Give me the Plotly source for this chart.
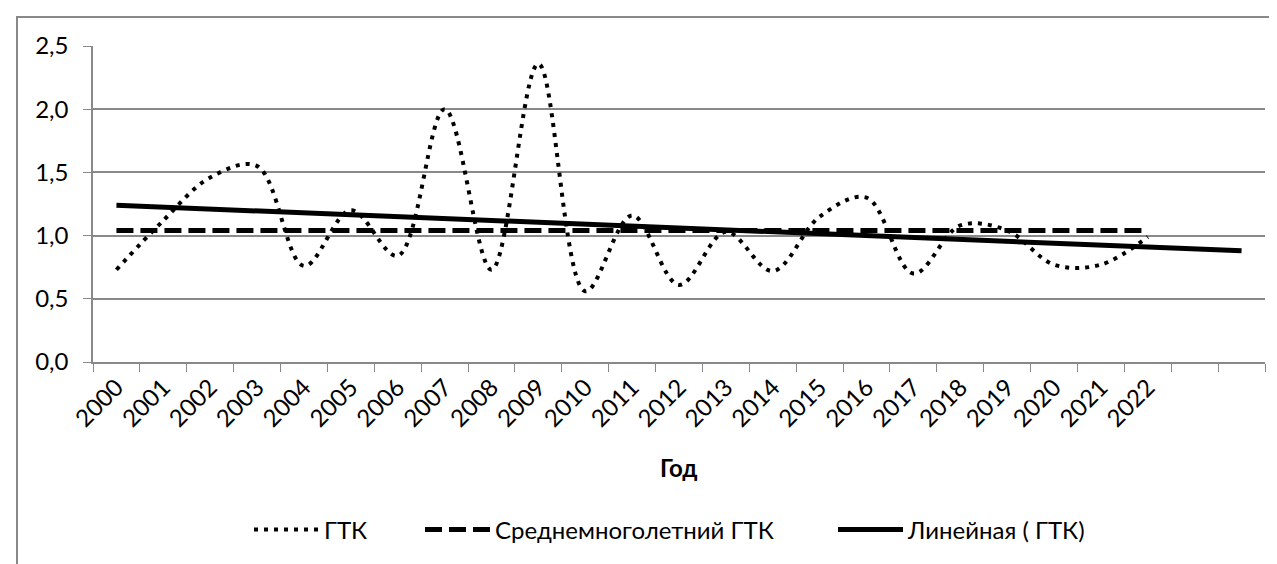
import plotly.graph_objects as go

# Data
years = [str(y) for y in range(2000, 2023)]
extra_cats = [" ", "  "]  # two empty forecast slots at the end of the axis
gtk = [0.73, 1.12, 1.46, 1.55, 0.76, 1.20, 0.84, 2.00, 0.73, 2.36, 0.56, 1.16,
       0.61, 1.03, 0.72, 1.15, 1.30, 0.70, 1.08, 1.04, 0.77, 0.77, 0.99]
gtk_mean = 1.04
trend_x = [years[0], extra_cats[-1]]
trend_y = [1.24, 0.88]

all_cats = years + extra_cats
font = "Lato"
grey = "#898989"

fig = go.Figure()

fig.add_trace(go.Scatter(
    x=years, y=gtk, mode="lines", name="ГТК", legend="legend",
    line=dict(color="black", width=4, dash="4px,6px", shape="spline", smoothing=1),
))
fig.add_trace(go.Scatter(
    x=years, y=[gtk_mean] * len(years), mode="lines", name="Среднемноголетний ГТК",
    legend="legend2",
    line=dict(color="black", width=5, dash="17px,7px"),
))
fig.add_trace(go.Scatter(
    x=trend_x, y=trend_y, mode="lines", name="Линейная ( ГТК)", legend="legend3",
    line=dict(color="black", width=5),
))

W, H = 1277, 564
L, R, T, B = 85, 20, 38, 210
pw, ph = W - L - R, H - T - B

def px_x(x):
    return (x - L) / pw

def px_y(y):
    return (H - B - y) / ph

leg = dict(orientation="h", xref="container", yref="container", xanchor="left",
           yanchor="middle", y=1 - 522 / H, itemwidth=65, bgcolor="rgba(0,0,0,0)",
           font=dict(family=font, size=24, color="black"))

fig.update_layout(
    width=W, height=H,
    margin=dict(l=L, r=R, t=T, b=B),
    paper_bgcolor="white", plot_bgcolor="white",
    separators=", ",
    showlegend=True,
    font=dict(family=font, size=24, color="black"),
    legend=dict(leg, x=241 / W),
    legend2=dict(leg, x=412 / W),
    legend3=dict(leg, x=825 / W),
    xaxis=dict(
        type="category", categoryorder="array", categoryarray=all_cats,
        range=[-0.5, len(all_cats) - 0.5], tickson="boundaries",
        tickmode="array", tickvals=all_cats, ticktext=all_cats,
        ticks="outside", ticklen=8, tickcolor=grey, tickangle=-45,
        showline=True, linecolor=grey, linewidth=1.5, showgrid=False,
        tickfont=dict(family=font, size=24),
    ),
    yaxis=dict(
        range=[0, 2.5], dtick=0.5, tickformat=".1f",
        ticks="outside", ticklen=8, tickcolor=grey,
        showline=True, linecolor=grey, linewidth=1.5,
        showgrid=True, gridcolor=grey, gridwidth=1.5, zeroline=False,
        ticklabelstandoff=10, tickfont=dict(family=font, size=24),
    ),
    annotations=[dict(
        text="<b>Год</b>", xref="paper", yref="paper", x=0.5, y=px_y(459),
        xanchor="center", yanchor="middle", showarrow=False,
        font=dict(family=font, size=24, color="black"),
    )],
    shapes=[dict(
        type="rect", xref="paper", yref="paper",
        x0=px_x(9), x1=px_x(1320), y0=px_y(620), y1=px_y(9),
        line=dict(color=grey, width=2), layer="below",
    )],
)

fig.write_html("out.html")
